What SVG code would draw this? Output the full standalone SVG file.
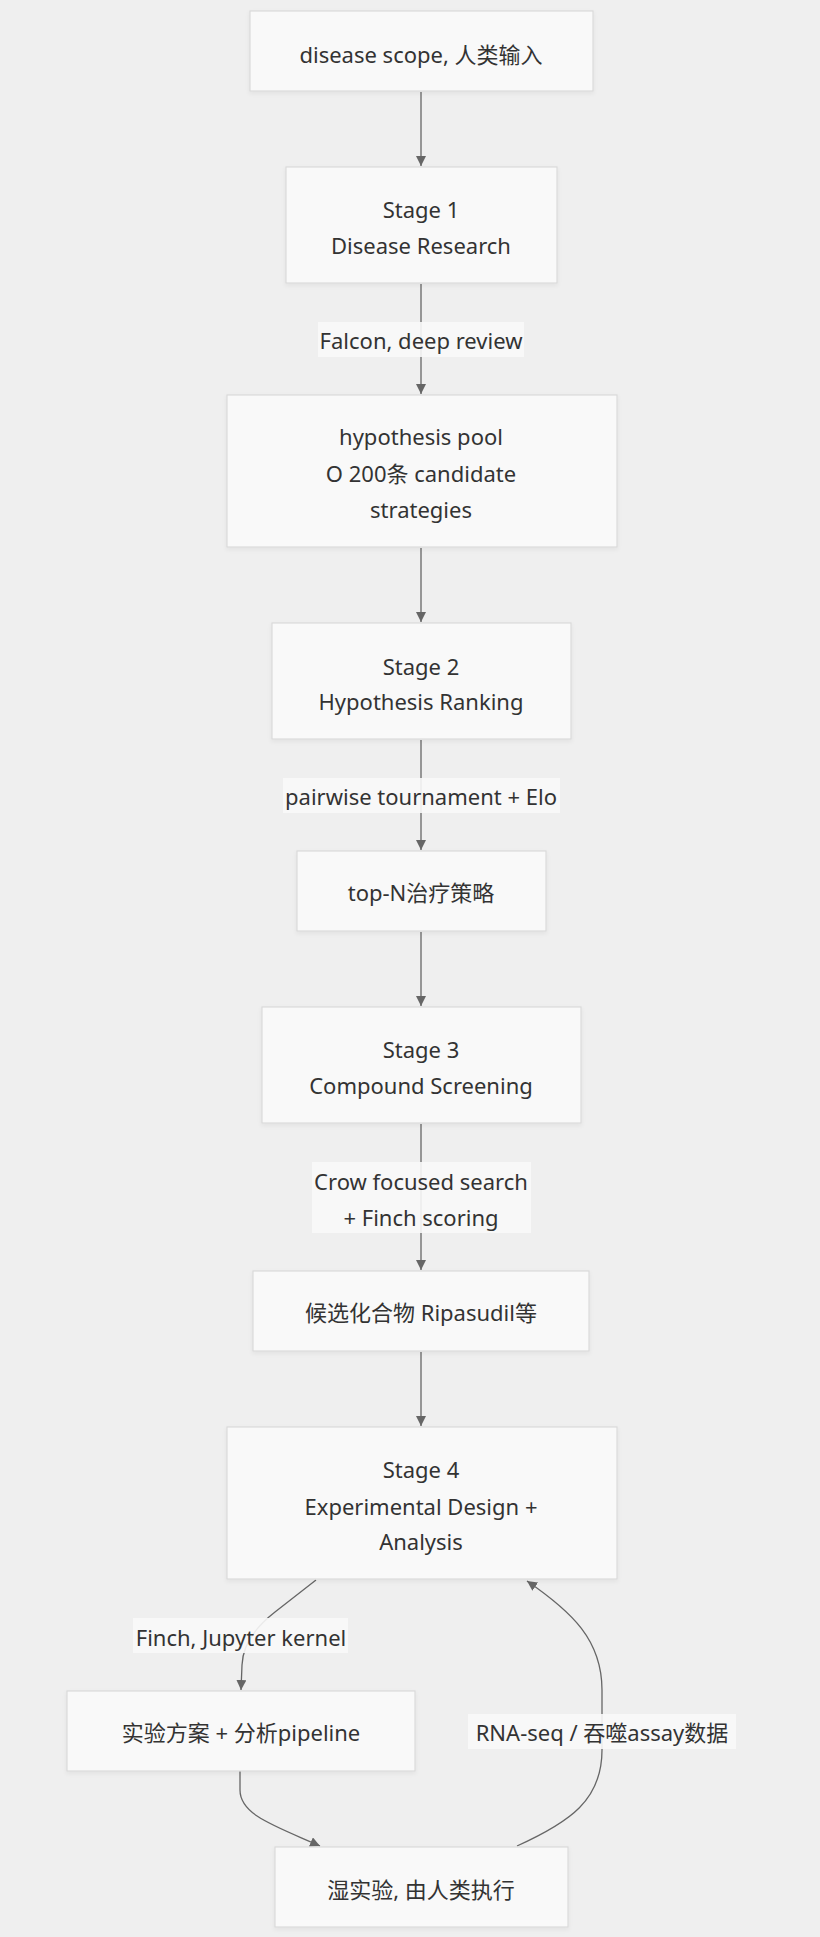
<svg xmlns="http://www.w3.org/2000/svg" width="820" height="1937" viewBox="0 0 820 1937">
<defs>
<marker id="arr" viewBox="0 0 10 10" refX="10" refY="5" markerWidth="10" markerHeight="10" markerUnits="userSpaceOnUse" orient="auto">
<path d="M0,0 L10,5 L0,10 z" fill="#666"/>
</marker>
<filter id="sh" x="-5%" y="-5%" width="110%" height="120%">
<feDropShadow dx="0" dy="2" stdDeviation="2" flood-color="#000" flood-opacity="0.06"/>
</filter>
</defs>
<style>
.n rect{fill:#f9f9f9;stroke:#dadada;stroke-width:1.2;filter:url(#sh)}
text{font-family:"Noto Sans","Noto Sans CJK SC",sans-serif;font-size:22px;fill:#333;text-anchor:middle;dominant-baseline:central}
.e{fill:none;stroke:#666;stroke-width:1.3;marker-end:url(#arr)}
.lb{fill:#f8f8f8;opacity:0.9}
</style>
<rect width="820" height="1937" fill="#efefef"/>
<g id="edges">
<path class="e" d="M421,92 L421,166"/>
<path class="e" d="M421,284 L421,394"/>
<path class="e" d="M421,548 L421,622"/>
<path class="e" d="M421,740 L421,850"/>
<path class="e" d="M421,932 L421,1006"/>
<path class="e" d="M421,1124 L421,1270"/>
<path class="e" d="M421,1352 L421,1426"/>
<path class="e" d="M316,1580 L275,1612 Q243,1637 242,1665 L241,1690"/>
<path class="e" d="M240,1771 L240,1790 C240,1815 275,1826 320,1846"/>
<path class="e" d="M517,1846 C570,1822 602,1800 602,1750 L602,1690 C602,1640 572,1612 527,1581"/>
<g id="edge-labels">
<rect class="lb" x="318" y="322" width="206" height="35"/>
<text x="421" y="340">Falcon, deep review</text>
<rect class="lb" x="283" y="778" width="277" height="35"/>
<text x="421" y="796">pairwise tournament + Elo</text>
<rect class="lb" x="312" y="1162" width="219" height="71"/>
<text x="421" y="1181">Crow focused search</text>
<text x="421" y="1217">+ Finch scoring</text>
<rect class="lb" x="133" y="1618" width="215" height="35"/>
<text x="241" y="1637">Finch, Jupyter kernel</text>
<rect class="lb" x="468" y="1714" width="268" height="35"/>
<text x="602" y="1732">RNA-seq / 吞噬assay数据</text>
</g>
</g>
<g id="n1" class="n"><rect x="250" y="11" width="343" height="80"/><text x="421" y="54">disease scope, 人类输入</text></g>
<g id="n2" class="n"><rect x="286" y="167" width="271" height="116"/><text x="421" y="209">Stage 1</text><text x="421" y="245">Disease Research</text></g>
<g id="n3" class="n"><rect x="227" y="395" width="390" height="152"/><text x="421" y="436">hypothesis pool</text><text x="421" y="473">O 200条 candidate</text><text x="421" y="509">strategies</text></g>
<g id="n4" class="n"><rect x="272" y="623" width="299" height="116"/><text x="421" y="666">Stage 2</text><text x="421" y="701">Hypothesis Ranking</text></g>
<g id="n5" class="n"><rect x="297" y="851" width="249" height="80"/><text x="421" y="892">top-N治疗策略</text></g>
<g id="n6" class="n"><rect x="262" y="1007" width="319" height="116"/><text x="421" y="1049">Stage 3</text><text x="421" y="1085">Compound Screening</text></g>
<g id="n7" class="n"><rect x="253" y="1271" width="336" height="80"/><text x="421" y="1312">候选化合物 Ripasudil等</text></g>
<g id="n8" class="n"><rect x="227" y="1427" width="390" height="152"/><text x="421" y="1469">Stage 4</text><text x="421" y="1506">Experimental Design +</text><text x="421" y="1541">Analysis</text></g>
<g id="n9" class="n"><rect x="67" y="1691" width="348" height="80"/><text x="241" y="1732">实验方案 + 分析pipeline</text></g>
<g id="n10" class="n"><rect x="275" y="1847" width="293" height="80"/><text x="421" y="1889">湿实验, 由人类执行</text></g>
</svg>
